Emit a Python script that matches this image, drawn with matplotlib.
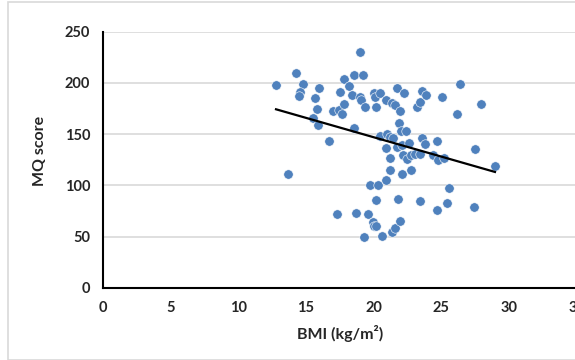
import matplotlib
matplotlib.use("Agg")
import matplotlib.pyplot as plt
from matplotlib.patches import Rectangle
import numpy as np

bmi = [12.8, 13.7, 14.3, 14.8, 14.6, 14.5, 15.7, 16.0, 15.8, 15.5, 15.9, 16.7,
       17.0, 17.45, 17.5, 17.3, 17.8, 18.2, 18.4, 17.8, 17.7, 18.55, 19.2, 19.0,
       18.55, 18.7, 19.0, 19.05, 19.35, 19.6, 19.75, 20.35, 19.3, 19.95, 20.05,
       20.2, 20.2, 20.65, 20.0, 20.1, 20.45, 20.2, 20.9, 20.9, 20.9, 20.5, 21.0,
       21.2, 21.45, 21.2, 21.2, 21.4, 21.6, 21.95, 21.8, 22.1, 21.35, 21.6, 21.7,
       22.25, 21.95, 21.9, 22.0, 22.4, 21.7, 22.1, 22.6, 22.2, 22.45, 22.8, 23.05,
       23.4, 22.8, 23.55, 23.8, 23.2, 23.4, 23.55, 23.9, 23.4, 24.4, 24.75, 25.2,
       24.7, 24.7, 25.6, 25.45, 25.05, 26.2, 26.4, 27.4, 27.5, 27.95, 28.97]
mq = [198, 111.5, 210, 199, 191.5, 187.5, 185, 195, 175, 165.5, 159, 143,
      173, 173.5, 191.5, 71.5, 203.5, 196.5, 188, 179.5, 170, 208, 208, 230.5,
      156, 72.5, 186, 183.5, 176, 71.7, 100.5, 100, 49.8, 64, 60.5,
      59.8, 85.7, 50.7, 190.5, 186.5, 190, 176, 183.5, 105.2, 136, 148, 150.5,
      147.5, 146, 126.2, 114.8, 54.7, 58, 65.2, 86.6, 111.5, 180.6, 178.4, 195.3,
      189.8, 172.8, 160.5, 153, 153, 137.7, 139.3, 141.4, 129.4, 126, 129.4, 131,
      131, 115.4, 146.6, 140.8, 176.8, 181.5, 192, 188, 84.7, 129.5, 125, 127,
      143.5, 76.3, 97.5, 82.5, 186.5, 169.6, 198.5, 79.2, 135.2, 179, 119.3]

trend_slope = -3.785
trend_intercept = 222.7

x_ticks = [0, 5, 10, 15, 20, 25, 30, 35]
y_ticks = [0, 50, 100, 150, 200, 250]

plt.rcParams['font.family'] = ['Lato', 'DejaVu Sans']

fig = plt.figure(figsize=(5.75, 3.6), dpi=100)
fig.patches.append(Rectangle((8 / 575, 0), 1.0, 1 - 2 / 360, transform=fig.transFigure,
                             fill=False, edgecolor='#D9D9D9', linewidth=1.2, zorder=0))

ax = fig.add_axes([0.1786, 0.2008, 0.8242, 0.7111])
ax.set_xlim(0, 35)
ax.set_ylim(0, 250)
ax.set_xticks(x_ticks)
ax.set_yticks(y_ticks)
ax.grid(axis='y', color='#D9D9D9', linewidth=1.2)
ax.set_axisbelow(True)

ax.scatter(bmi, mq, s=46, color='#4F81BD', edgecolors='white', linewidths=0.4, zorder=3)

tx = np.array([min(bmi), max(bmi)])
ax.plot(tx, trend_intercept + trend_slope * tx, color='black', linewidth=1.6, zorder=4)

for s in ['top', 'right']:
    ax.spines[s].set_visible(False)
for s in ['left', 'bottom']:
    ax.spines[s].set_color('black')
    ax.spines[s].set_linewidth(1.5)

ax.tick_params(axis='both', length=0, labelsize=10.5, colors='#262626')
ax.tick_params(axis='y', pad=9)
ax.tick_params(axis='x', pad=9.5)
for lab in ax.get_xticklabels() + ax.get_yticklabels():
    lab.set_fontweight('bold')

ax.set_xlabel('BMI (kg/m²)', fontsize=11.5, fontweight='bold', color='#262626', va='center')
ax.set_ylabel('MQ score', fontsize=11.5, fontweight='bold', color='#262626', va='center')
ax.xaxis.set_label_coords(0.5, -0.177)
ax.yaxis.set_label_coords(-0.132, 0.534)

fig.savefig('out.png', dpi=100)
